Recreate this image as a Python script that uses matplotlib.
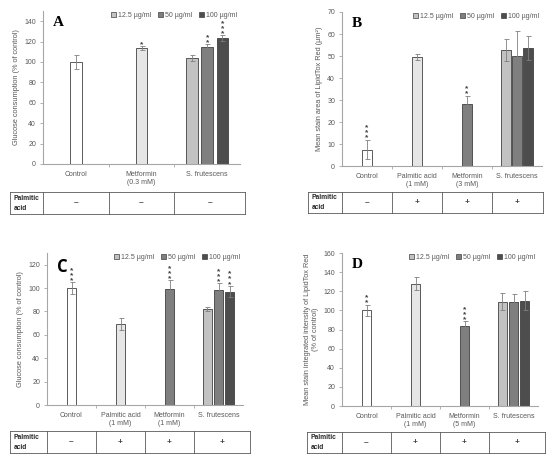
import matplotlib
matplotlib.use("Agg")
import matplotlib.pyplot as plt
from matplotlib.patches import Patch
from matplotlib.lines import Line2D

plt.rcParams["font.family"] = ["Liberation Sans", "DejaVu Sans"]

TEXT = "#595959"
EDGE = "#404040"
SPINE = "#a6a6a6"

conc_labels = ["12.5 µg/ml", "50 µg/ml", "100 µg/ml"]
conc_colors = ["#c2c2c2", "#7f7f7f", "#4d4d4d"]

# panel A
a_categories = ["Control", "Metformin\n(0.3 mM)", "S. frutescens"]
a_means = [100, 114, 103.5, 114.5, 123.5]
a_errors = [7, 2, 3, 3, 3]
a_stars = [0, 1, 0, 2, 3]
a_colors = ["white", "#e6e6e6"] + conc_colors
a_palmitic = ["–", "–", "–"]

# panel B
b_categories = ["Control", "Palmitic acid\n(1 mM)", "Metformin\n(3 mM)", "S. frutescens"]
b_means = [7.5, 49.5, 28, 52.5, 50, 53.5]
b_errors = [4.5, 1.5, 4, 5, 11.5, 5.5]
b_stars = [3, 0, 2, 0, 0, 0]
b_colors = ["white", "#e6e6e6", "#7f7f7f"] + conc_colors
b_palmitic = ["–", "+", "+", "+"]

# panel C
c_categories = ["Control", "Palmitic acid\n(1 mM)", "Metformin\n(1 mM)", "S. frutescens"]
c_means = [100, 69.5, 99.5, 82, 98, 97]
c_errors = [5, 5, 7, 2, 6, 5]
c_stars = [3, 0, 3, 0, 3, 3]
c_colors = ["white", "#e6e6e6", "#7f7f7f"] + conc_colors
c_palmitic = ["–", "+", "+", "+"]

# panel D
d_categories = ["Control", "Palmitic acid\n(1 mM)", "Metformin\n(5 mM)", "S. frutescens"]
d_means = [100, 128, 83.5, 109, 109, 110]
d_errors = [6, 7, 5.5, 9, 8.5, 10]
d_stars = [2, 0, 3, 0, 0, 0]
d_colors = ["white", "#e6e6e6", "#7f7f7f"] + conc_colors
d_palmitic = ["–", "+", "+", "+"]


def draw_panel(fig, rect, letter, letter_font, categories, means, errors, stars,
               colors, ylim, yticks, ylabel, width, offset):
    ax = fig.add_axes(rect)
    n = len(categories)
    # single bars for every category but the last, three bars for the extract
    xs = list(range(n - 1)) + [n - 1 - offset, n - 1, n - 1 + offset]
    ax.bar(xs, means, width=width, color=colors, edgecolor=EDGE, linewidth=0.6,
           yerr=errors, error_kw=dict(ecolor="#7f7f7f", elinewidth=0.6,
                                      capsize=1.8, capthick=0.6), zorder=2)
    for x, m, e, s in zip(xs, means, errors, stars):
        if s:
            ax.annotate("\n".join(["*"] * s), (x, m + e), xytext=(0, -1.5),
                        textcoords="offset points", ha="center", va="bottom",
                        fontsize=6, color="#404040", linespacing=0.62,
                        fontweight="bold")
    ax.set_xlim(-0.5, n - 0.5)
    ax.set_ylim(*ylim)
    ax.set_yticks(yticks)
    ax.set_xticks([i + 0.5 for i in range(n - 1)], minor=True)
    ax.set_xticks(range(n))
    ax.set_xticklabels(categories)
    ax.tick_params(axis="x", which="major", length=0, pad=5, labelsize=5,
                   labelcolor=TEXT)
    ax.tick_params(axis="x", which="minor", length=2, color=SPINE, width=0.6)
    ax.tick_params(axis="y", length=2, color=SPINE, width=0.6, labelsize=5,
                   labelcolor=TEXT, pad=3)
    for side in ["top", "right"]:
        ax.spines[side].set_visible(False)
    for side in ["left", "bottom"]:
        ax.spines[side].set_color(SPINE)
        ax.spines[side].set_linewidth(0.8)
    ax.set_ylabel(ylabel, fontsize=5.3, color=TEXT, labelpad=3)
    ax.text(0.05, 0.97, letter, transform=ax.transAxes,
            fontsize=12 if letter_font != "Liberation Serif" else 11,
            fontweight="bold", family=letter_font, va="top", ha="left")
    handles = [Patch(facecolor=c, edgecolor=EDGE, linewidth=0.5) for c in conc_colors]
    ax.legend(handles, conc_labels, loc="upper right", bbox_to_anchor=(1.0, 1.01),
              ncol=3, frameon=False, fontsize=5, handlelength=0.7,
              handleheight=0.7, handletextpad=0.3, columnspacing=1.0,
              labelcolor=TEXT, borderaxespad=0)
    return ax


def draw_table(fig, ax, signs, x_left, x_right, y_top, y_bottom):
    # table under the panel, columns follow the category boundaries
    inv = fig.transFigure.inverted()
    n = len(signs)
    bounds = [inv.transform(ax.transData.transform((i - 0.5, 0)))[0] for i in range(n)]
    cols = [x_left] + bounds + [x_right]
    kw = dict(transform=fig.transFigure, color="#595959", linewidth=0.6)
    fig.add_artist(Line2D([x_left, x_right], [y_top, y_top], **kw))
    fig.add_artist(Line2D([x_left, x_right], [y_bottom, y_bottom], **kw))
    for x in cols:
        fig.add_artist(Line2D([x, x], [y_top, y_bottom], **kw))
    ymid = (y_top + y_bottom) / 2
    fig.text(x_left + 0.006, ymid, "Palmitic\nacid", fontsize=4.8, fontweight="bold",
             ha="left", va="center", color="#262626", linespacing=1.6)
    for i, s in enumerate(signs):
        fig.text((cols[i + 1] + cols[i + 2]) / 2, ymid, s, fontsize=6,
                 fontweight="bold", ha="center", va="center", color="#404040")


W, H = 550, 461
fig = plt.figure(figsize=(W / 100, H / 100), dpi=100)


def frac(left, top, right, bottom):
    return [left / W, 1 - bottom / H, (right - left) / W, (bottom - top) / H]


ax_a = draw_panel(fig, frac(43, 11, 240, 164), "A", "Liberation Serif", a_categories,
                  a_means, a_errors, a_stars, a_colors, (0, 150), range(0, 141, 20),
                  "Glucose consumption (% of control)", 0.175, 0.23)
ax_b = draw_panel(fig, frac(342, 12, 542, 166), "B", "Liberation Serif", b_categories,
                  b_means, b_errors, b_stars, b_colors, (0, 70), range(0, 71, 10),
                  "Mean stain area of LipidTox Red (µm²)", 0.21, 0.22)
ax_c = draw_panel(fig, frac(47, 253, 243, 405), "C", "Open Sans", c_categories,
                  c_means, c_errors, c_stars, c_colors, (0, 130), range(0, 121, 20),
                  "Glucose consumption (% of control)", 0.2, 0.225)
ax_d = draw_panel(fig, frac(342, 253, 538, 406), "D", "Liberation Serif", d_categories,
                  d_means, d_errors, d_stars, d_colors, (0, 160), range(0, 161, 20),
                  "Mean stain integrated intensity of LipidTox Red\n(% of control)",
                  0.2, 0.225)

draw_table(fig, ax_a, a_palmitic, 10 / W, 245 / W, 1 - 192 / H, 1 - 214 / H)
draw_table(fig, ax_b, b_palmitic, 308 / W, 543 / W, 1 - 192 / H, 1 - 213 / H)
draw_table(fig, ax_c, c_palmitic, 10 / W, 250 / W, 1 - 431 / H, 1 - 453 / H)
draw_table(fig, ax_d, d_palmitic, 307 / W, 545 / W, 1 - 432 / H, 1 - 453 / H)

fig.savefig("out.png", dpi=100, facecolor="white")
